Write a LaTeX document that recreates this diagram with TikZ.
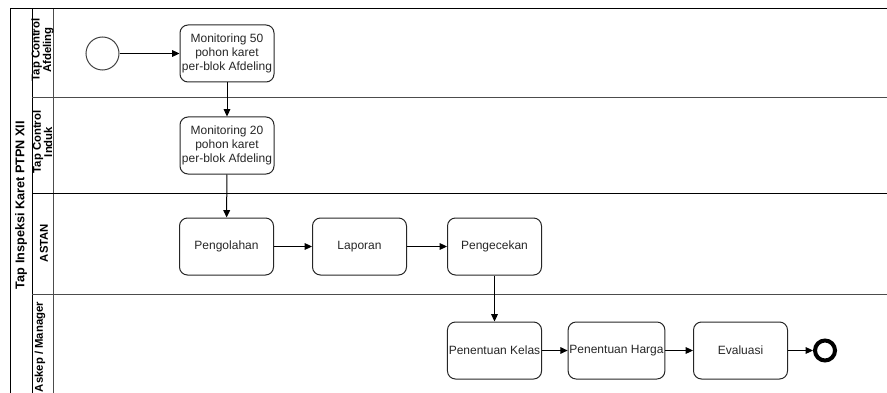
\documentclass[tikz,border=0pt]{standalone}
\usepackage{fontspec}
\setmainfont{Liberation Sans}
\usetikzlibrary{arrows.meta}
\begin{document}
\begin{tikzpicture}[x=0.75pt,y=-0.75pt,
  task/.style={draw=black!85, line width=0.75pt, rounded corners=6pt,
    minimum width=70.5pt, minimum height=42.75pt, align=center,
    font=\fontsize{9}{10.5}\selectfont, text=black!85, inner sep=1pt},
  flow/.style={draw=black, line width=0.75pt, -{Triangle[length=5.5pt,width=5pt]}},
  poolline/.style={line width=0.75pt, draw=black},
  laneline/.style={line width=0.75pt, draw=black!70},
  lanelabel/.style={rotate=90, font=\fontsize{8.5}{8.5}\selectfont\bfseries,
    align=center, text=black, inner sep=0pt},
  pooltitle/.style={rotate=90, font=\fontsize{9.5}{10}\selectfont\bfseries,
    text=black, inner sep=0pt}
]
\useasboundingbox (0,0) rectangle (887,392);

% pool frame and lanes (the pool runs past the visible page)
\begin{scope}
  \clip (0,0) rectangle (887,392);
  \draw[poolline] (887,9) -- (10,9) -- (10,410);
  \draw[poolline] (32,9) -- (32,410);
  \draw[laneline] (53,9) -- (53,410);
  \draw[laneline] (32,98) -- (887,98);
  \draw[poolline] (32,193) -- (887,193);
  \draw[laneline] (32,294) -- (887,294);
\end{scope}

% titles
\node[pooltitle] (pool) at (21,205) {Tap Inspeksi Karet PTPN XII};
\node[lanelabel] (l1) at (42.5,50) {Tap Control\\Afdeling};
\node[lanelabel] (l2) at (42.5,142) {Tap Control\\Induk};
\node[lanelabel] (l3) at (44,243) {ASTAN};
\node[lanelabel] (l4) at (40,347) {Askep / Manager};

% events
\node[circle, draw=black!75, line width=0.75pt, minimum size=24.75pt, inner sep=0pt] (start) at (102.5,53.5) {};
\node[circle, draw=black, line width=3pt, minimum size=15pt, inner sep=0pt] (end) at (825,350.5) {};

% tasks
\node[task] (m50) at (227,53.5) {Monitoring 50\\pohon karet\\per-blok Afdeling};
\node[task] (m20) at (227,145.5) {Monitoring 20\\pohon karet\\per-blok Afdeling};
\node[task] (olah) at (226.5,246.5) {Pengolahan};
\node[task] (lapor) at (359.5,246.5) {Laporan};
\node[task] (cek) at (494.5,246.5) {Pengecekan};
\node[task] (kelas) at (494.5,350.5) {Penentuan Kelas};
\node[task] (harga) at (616.5,350.5) {Penentuan Harga};
\node[task] (eval) at (740.5,350.5) {Evaluasi};

% sequence flows
\draw[flow] (start) -- (m50);
\draw[flow] (m50) -- (m20);
\draw[flow] (m20) -- (olah);
\draw[flow] (olah) -- (lapor);
\draw[flow] (lapor) -- (cek);
\draw[flow] (cek) -- (kelas);
\draw[flow] (kelas) -- (harga);
\draw[flow] (harga) -- (eval);
\draw[flow] (eval) -- (end);
\end{tikzpicture}
\end{document}
